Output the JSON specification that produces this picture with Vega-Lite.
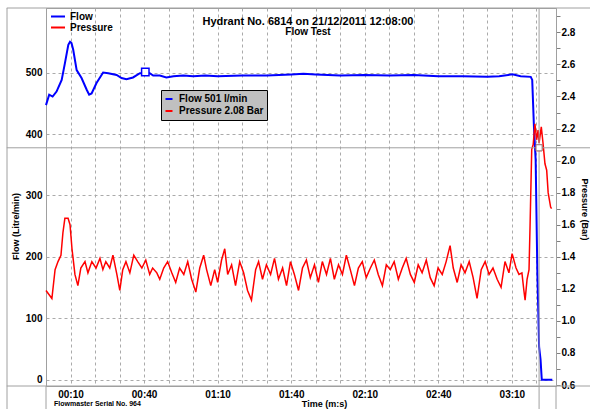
{
  "$schema": "https://vega.github.io/schema/vega-lite/v6.json",
  "width": 510,
  "height": 378,
  "autosize": {"type": "none"},
  "padding": {"left": 46, "top": 8, "right": 34, "bottom": 23},
  "background": "white",
  "config": {
    "font": "Liberation Sans",
    "view": {"stroke": "#a0a0a0", "strokeWidth": 1},
    "axis": {
      "labelFont": "Liberation Sans", "labelFontWeight": "bold", "labelColor": "black", "labelFontSize": 10,
      "titleFont": "Liberation Sans", "titleFontWeight": "bold", "titleColor": "black",
      "domainColor": "#a0a0a0", "tickColor": "#808080", "labelOverlap": false
    },
    "legend": {
      "labelFont": "Liberation Sans", "labelFontWeight": "bold", "labelColor": "black", "labelFontSize": 10
    }
  },
  "title": {
    "text": "Hydrant No. 6814 on  21/12/2011 12:08:00",
    "subtitle": "Flow Test",
    "anchor": "middle",
    "offset": -29,
    "dx": 7,
    "font": "Liberation Sans", "fontSize": 11, "fontWeight": "bold", "color": "black",
    "subtitleFont": "Liberation Sans", "subtitleFontSize": 10, "subtitleFontWeight": "bold", "subtitleColor": "black",
    "subtitlePadding": 0
  },
  "datasets": {
    "flow": [
      {"t": 0, "flow": 447}, {"t": 1.3, "flow": 464}, {"t": 2.7, "flow": 461}, {"t": 4.3, "flow": 469},
      {"t": 6.4, "flow": 488}, {"t": 7.7, "flow": 515}, {"t": 9.1, "flow": 545}, {"t": 9.8, "flow": 550},
      {"t": 10.4, "flow": 548}, {"t": 11.1, "flow": 537}, {"t": 12.5, "flow": 504}, {"t": 14.5, "flow": 491},
      {"t": 16.6, "flow": 472}, {"t": 17.6, "flow": 464}, {"t": 18.6, "flow": 466}, {"t": 20.6, "flow": 483},
      {"t": 23.3, "flow": 500}, {"t": 25.4, "flow": 499}, {"t": 28.8, "flow": 496}, {"t": 30.8, "flow": 491},
      {"t": 32.8, "flow": 489}, {"t": 35.5, "flow": 492}, {"t": 38.3, "flow": 499}, {"t": 42.3, "flow": 499},
      {"t": 43.7, "flow": 495}, {"t": 46.4, "flow": 495}, {"t": 49.1, "flow": 492}, {"t": 52, "flow": 494},
      {"t": 56, "flow": 495}, {"t": 60, "flow": 494}, {"t": 65, "flow": 495}, {"t": 70, "flow": 494},
      {"t": 80, "flow": 495}, {"t": 90, "flow": 495}, {"t": 100, "flow": 497}, {"t": 105, "flow": 498},
      {"t": 110, "flow": 497}, {"t": 120, "flow": 495}, {"t": 130, "flow": 496}, {"t": 140, "flow": 495},
      {"t": 150, "flow": 496}, {"t": 160, "flow": 494}, {"t": 170, "flow": 494}, {"t": 180, "flow": 493},
      {"t": 184.8, "flow": 494}, {"t": 190.2, "flow": 497}, {"t": 193.6, "flow": 494}, {"t": 197.7, "flow": 493},
      {"t": 198.3, "flow": 488}, {"t": 199.0, "flow": 412}, {"t": 199.7, "flow": 358}, {"t": 200.4, "flow": 174},
      {"t": 200.8, "flow": 109}, {"t": 201.1, "flow": 54}, {"t": 201.7, "flow": 33}, {"t": 202.2, "flow": 0},
      {"t": 206.5, "flow": 0}
    ],
    "pressure": [
      {"t": 0, "p": 1.19}, {"t": 2.4, "p": 1.14}, {"t": 3.7, "p": 1.32}, {"t": 4.9, "p": 1.37},
      {"t": 6.1, "p": 1.41}, {"t": 6.9, "p": 1.55}, {"t": 7.7, "p": 1.64}, {"t": 9.0, "p": 1.64},
      {"t": 9.8, "p": 1.60}, {"t": 10.6, "p": 1.45}, {"t": 11.8, "p": 1.29}, {"t": 13.0, "p": 1.22},
      {"t": 14.2, "p": 1.33}, {"t": 15.9, "p": 1.37}, {"t": 17.1, "p": 1.30}, {"t": 18.7, "p": 1.37},
      {"t": 20.4, "p": 1.33}, {"t": 22.0, "p": 1.39}, {"t": 23.2, "p": 1.32}, {"t": 24.4, "p": 1.37},
      {"t": 26.0, "p": 1.33}, {"t": 27.3, "p": 1.41}, {"t": 28.9, "p": 1.29}, {"t": 30.1, "p": 1.19},
      {"t": 31.3, "p": 1.32}, {"t": 32.6, "p": 1.37}, {"t": 34.2, "p": 1.30}, {"t": 35.8, "p": 1.41},
      {"t": 37.4, "p": 1.37}, {"t": 39.1, "p": 1.33}, {"t": 40.7, "p": 1.38}, {"t": 42.3, "p": 1.29},
      {"t": 43.5, "p": 1.33}, {"t": 45.2, "p": 1.30}, {"t": 46.4, "p": 1.26}, {"t": 48.0, "p": 1.33},
      {"t": 49.6, "p": 1.37}, {"t": 51.3, "p": 1.30}, {"t": 52.9, "p": 1.24}, {"t": 54.5, "p": 1.33},
      {"t": 56.2, "p": 1.29}, {"t": 57.8, "p": 1.37}, {"t": 59.4, "p": 1.26}, {"t": 61.1, "p": 1.18},
      {"t": 62.7, "p": 1.33}, {"t": 64.3, "p": 1.41}, {"t": 65.5, "p": 1.32}, {"t": 67.2, "p": 1.22},
      {"t": 68.8, "p": 1.32}, {"t": 70.0, "p": 1.24}, {"t": 71.6, "p": 1.38}, {"t": 72.9, "p": 1.45},
      {"t": 74.1, "p": 1.29}, {"t": 75.7, "p": 1.35}, {"t": 77.3, "p": 1.22}, {"t": 79.0, "p": 1.37},
      {"t": 80.6, "p": 1.30}, {"t": 82.2, "p": 1.19}, {"t": 83.8, "p": 1.13}, {"t": 85.5, "p": 1.32},
      {"t": 86.7, "p": 1.37}, {"t": 88.3, "p": 1.26}, {"t": 89.9, "p": 1.35}, {"t": 91.6, "p": 1.29},
      {"t": 93.2, "p": 1.39}, {"t": 94.8, "p": 1.26}, {"t": 96.5, "p": 1.33}, {"t": 98.1, "p": 1.22},
      {"t": 99.7, "p": 1.37}, {"t": 101.3, "p": 1.29}, {"t": 103.0, "p": 1.19}, {"t": 104.6, "p": 1.33},
      {"t": 106.2, "p": 1.38}, {"t": 107.8, "p": 1.27}, {"t": 109.5, "p": 1.35}, {"t": 111.1, "p": 1.24},
      {"t": 112.7, "p": 1.37}, {"t": 114.4, "p": 1.29}, {"t": 116.0, "p": 1.39}, {"t": 117.6, "p": 1.26},
      {"t": 119.3, "p": 1.35}, {"t": 120.9, "p": 1.29}, {"t": 122.5, "p": 1.41}, {"t": 124.1, "p": 1.32},
      {"t": 125.8, "p": 1.22}, {"t": 127.4, "p": 1.33}, {"t": 129.0, "p": 1.37}, {"t": 130.6, "p": 1.27},
      {"t": 132.3, "p": 1.33}, {"t": 133.9, "p": 1.38}, {"t": 135.5, "p": 1.29}, {"t": 137.2, "p": 1.22},
      {"t": 138.8, "p": 1.35}, {"t": 140.4, "p": 1.32}, {"t": 142.0, "p": 1.37}, {"t": 143.7, "p": 1.26},
      {"t": 145.3, "p": 1.33}, {"t": 146.9, "p": 1.39}, {"t": 148.6, "p": 1.29}, {"t": 150.2, "p": 1.24},
      {"t": 151.8, "p": 1.35}, {"t": 153.4, "p": 1.30}, {"t": 155.1, "p": 1.38}, {"t": 156.7, "p": 1.27},
      {"t": 158.3, "p": 1.22}, {"t": 159.9, "p": 1.33}, {"t": 161.6, "p": 1.29}, {"t": 163.2, "p": 1.37},
      {"t": 164.8, "p": 1.47}, {"t": 166.1, "p": 1.33}, {"t": 167.7, "p": 1.24}, {"t": 169.3, "p": 1.35},
      {"t": 170.9, "p": 1.30}, {"t": 172.6, "p": 1.37}, {"t": 174.2, "p": 1.27}, {"t": 175.8, "p": 1.14},
      {"t": 177.5, "p": 1.32}, {"t": 179.1, "p": 1.37}, {"t": 180.7, "p": 1.29}, {"t": 182.3, "p": 1.33},
      {"t": 184.0, "p": 1.26}, {"t": 185.6, "p": 1.21}, {"t": 187.2, "p": 1.37}, {"t": 188.8, "p": 1.30},
      {"t": 190.1, "p": 1.42}, {"t": 191.7, "p": 1.33}, {"t": 192.9, "p": 1.29}, {"t": 194.1, "p": 1.30},
      {"t": 194.9, "p": 1.19}, {"t": 195.4, "p": 1.13}, {"t": 196.2, "p": 1.26}, {"t": 197.0, "p": 1.32},
      {"t": 197.4, "p": 1.58}, {"t": 198.1, "p": 2.07}, {"t": 198.7, "p": 2.10}, {"t": 199.4, "p": 2.23},
      {"t": 200.1, "p": 2.13}, {"t": 200.7, "p": 2.19}, {"t": 201.1, "p": 2.11}, {"t": 202.0, "p": 2.21},
      {"t": 202.7, "p": 2.11}, {"t": 203.5, "p": 1.98}, {"t": 204.2, "p": 1.94}, {"t": 204.8, "p": 1.80},
      {"t": 205.8, "p": 1.71}, {"t": 206.2, "p": 1.70}
    ],
    "flowReading": [{"t": 40.5, "flow": 501, "label": "Flow 501 l/min"}],
    "pressureReading": [{"t": 201.1, "p": 2.08, "label": "Pressure 2.08 Bar"}],
    "one": [{}]
  },
  "layer": [
    {
      "layer": [
        {
          "data": {"name": "flow"},
          "mark": {"type": "line", "strokeWidth": 2},
          "encoding": {
            "x": {
              "field": "t", "type": "quantitative",
              "scale": {"domain": [0, 208], "nice": false, "zero": false},
              "axis": {
                "values": [10, 20, 30, 40, 50, 60, 70, 80, 90, 100, 110, 120, 130, 140, 150, 160, 170, 180, 190, 200],
                "tickCount": 100,
                "labelExpr": "(datum.value - 10) % 30 == 0 ? '0' + floor(datum.value / 60) + ':' + (datum.value % 60 < 10 ? '0' : '') + (datum.value % 60) : ''",
                "grid": true, "gridColor": "#aaaaaa", "gridDash": [3, 3], "gridWidth": 1, "gridOpacity": 1,
                "ticks": false, "labelPadding": 3, "labelFlush": false, "labelOverlap": false,
                "title": "Time (m:s)", "titleFontSize": 9, "titleX": 278, "titleY": 17, "titleBaseline": "middle"
              }
            },
            "y": {
              "field": "flow", "type": "quantitative",
              "scale": {"domain": [-10, 605], "nice": false, "zero": false},
              "axis": {
                "values": [0, 100, 200, 300, 400, 500],
                "tickCount": 100,
                "grid": true, "gridColor": "#aaaaaa", "gridDash": [3, 3], "gridWidth": 1, "gridOpacity": 1,
                "ticks": false, "labelPadding": 4,
                "title": "Flow (Litre/min)", "titleFontSize": 9, "titleX": -31, "titleY": 218, "titleBaseline": "middle"
              }
            },
            "color": {
              "datum": "Flow",
              "scale": {"domain": ["Flow", "Pressure"], "range": ["#0000ff", "#ff0000"]},
              "legend": {
                "title": null, "orient": "none", "legendX": 4, "legendY": 3,
                "symbolType": "stroke", "symbolStrokeWidth": 2, "symbolSize": 196,
                "labelOffset": 4, "padding": 0, "rowPadding": 0, "clipHeight": 11
              }
            }
          }
        },
        {
          "data": {"name": "flowReading"},
          "mark": {"type": "point", "shape": "square", "filled": false, "fill": "white", "fillOpacity": 1, "strokeWidth": 1.5, "size": 55, "opacity": 1},
          "encoding": {
            "x": {"field": "t", "type": "quantitative"},
            "y": {"field": "flow", "type": "quantitative"},
            "stroke": {
              "field": "label", "type": "nominal",
              "scale": {"domain": ["Flow 501 l/min", "Pressure 2.08 Bar"], "range": ["#0000ff", "#ff0000"]},
              "legend": {
                "title": null, "orient": "none", "legendX": 115, "legendY": 82,
                "fillColor": "#c0c0c0", "strokeColor": "#000000", "padding": 3,
                "symbolType": "stroke", "symbolStrokeWidth": 2, "symbolSize": 49,
                "labelOffset": 5, "rowPadding": 0, "clipHeight": 12
              }
            }
          }
        }
      ]
    },
    {
      "layer": [
        {
          "data": {"name": "pressure"},
          "mark": {"type": "line", "strokeWidth": 1.5},
          "encoding": {
            "x": {"field": "t", "type": "quantitative"},
            "y": {
              "field": "p", "type": "quantitative",
              "scale": {"domain": [0.594, 2.952], "nice": false, "zero": false},
              "axis": {
                "orient": "right",
                "values": [0.6, 0.7, 0.8, 0.9, 1.0, 1.1, 1.2, 1.3, 1.4, 1.5, 1.6, 1.7, 1.8, 1.9, 2.0, 2.1, 2.2, 2.3, 2.4, 2.5, 2.6, 2.7, 2.8, 2.9],
                "tickCount": 100,
                "labelExpr": "round(datum.value * 10) % 2 == 0 ? format(datum.value, '.1f') : ''",
                "grid": false, "ticks": true, "tickSize": 4, "labelPadding": 1, "labelOverlap": false, "labelFlush": false,
                "title": "Pressure (Bar)", "titleFontSize": 9, "titleX": 28, "titleY": 201, "titleBaseline": "middle", "titleAngle": 90
              }
            },
            "color": {"datum": "Pressure"}
          }
        },
        {
          "data": {"name": "one"},
          "mark": {"type": "rule", "color": "#a0a0a0", "strokeWidth": 1, "clip": false},
          "encoding": {
            "y": {"datum": 2.08, "type": "quantitative"},
            "x": {"datum": -16, "type": "quantitative"},
            "x2": {"datum": 222}
          }
        },
        {
          "data": {"name": "one"},
          "mark": {"type": "rule", "color": "#a0a0a0", "strokeWidth": 1, "clip": false},
          "encoding": {
            "x": {"datum": 201.1, "type": "quantitative"},
            "y": {"datum": 2.952, "type": "quantitative"},
            "y2": {"datum": 0.45}
          }
        },
        {
          "data": {"name": "one"},
          "mark": {"type": "rule", "color": "#a0a0a0", "strokeWidth": 1, "clip": false},
          "encoding": {
            "x": {"datum": -15.9, "type": "quantitative"},
            "y": {"datum": 2.952, "type": "quantitative"},
            "y2": {"datum": 0.45}
          }
        },
        {
          "data": {"name": "one"},
          "mark": {"type": "rule", "color": "#a0a0a0", "strokeWidth": 1, "clip": false},
          "encoding": {
            "y": {"datum": 2.952, "type": "quantitative"},
            "x": {"datum": -16, "type": "quantitative"},
            "x2": {"datum": 222}
          }
        },
        {
          "data": {"name": "one"},
          "mark": {"type": "rule", "color": "#a0a0a0", "strokeWidth": 1, "clip": false},
          "encoding": {
            "y": {"datum": 0.594, "type": "quantitative"},
            "x": {"datum": -16, "type": "quantitative"},
            "x2": {"datum": 222}
          }
        },
        {
          "data": {"name": "one"},
          "mark": {"type": "rule", "color": "#a0a0a0", "strokeWidth": 1, "clip": false},
          "encoding": {
            "x": {"datum": 0, "type": "quantitative"},
            "y": {"datum": 0.594, "type": "quantitative"},
            "y2": {"datum": 0.45}
          }
        },
        {
          "data": {"name": "one"},
          "mark": {"type": "rule", "color": "#a0a0a0", "strokeWidth": 1, "clip": false},
          "encoding": {
            "x": {"datum": 208, "type": "quantitative"},
            "y": {"datum": 0.594, "type": "quantitative"},
            "y2": {"datum": 0.45}
          }
        },
        {
          "data": {"name": "pressureReading"},
          "mark": {"type": "point", "shape": "square", "filled": false, "fill": "white", "fillOpacity": 1, "strokeWidth": 1, "size": 36, "opacity": 1},
          "encoding": {
            "x": {"field": "t", "type": "quantitative"},
            "y": {"field": "p", "type": "quantitative"},
            "stroke": {"field": "label", "type": "nominal"}
          }
        },
        {
          "data": {"name": "pressureReading"},
          "mark": {"type": "point", "shape": "square", "filled": false, "fill": "white", "fillOpacity": 1, "stroke": "#909090", "strokeWidth": 1, "size": 36, "opacity": 1},
          "encoding": {
            "x": {"field": "t", "type": "quantitative"},
            "y": {"field": "p", "type": "quantitative"}
          }
        },
        {
          "data": {"name": "one"},
          "mark": {"type": "text", "text": "Flowmaster Serial No. 964", "align": "left", "baseline": "middle", "font": "Liberation Sans", "fontSize": 7, "fontWeight": "bold", "color": "black", "clip": false},
          "encoding": {
            "x": {"datum": 3.3, "type": "quantitative"},
            "y": {"datum": 0.48, "type": "quantitative"}
          }
        }
      ]
    }
  ],
  "resolve": {"scale": {"y": "independent"}}
}
